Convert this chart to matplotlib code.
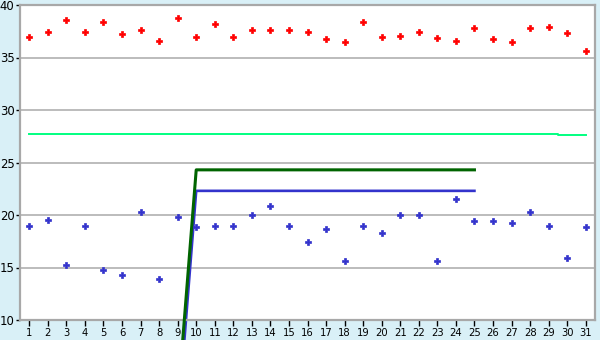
import matplotlib
matplotlib.use("Agg")
import matplotlib.pyplot as plt

days = list(range(1, 32))

red_vals = [37.0, 37.4, 38.6, 37.4, 38.4, 37.2, 37.6, 36.6, 38.8, 37.0,
            38.2, 37.0, 37.6, 37.6, 37.6, 37.4, 36.8, 36.5, 38.4, 37.0,
            37.05, 37.4, 36.9, 36.6, 37.8, 36.8, 36.45, 37.8, 37.95, 37.3,
            35.6]

blue_vals = [19.0, 19.5, 15.2, 19.0, 14.75, 14.25, 20.3, 13.95, 19.8, 18.85,
             19.0, 19.0, 20.0, 20.85, 19.0, 17.4, 18.65, 15.6, 19.0, 18.25,
             20.0, 20.0, 15.6, 21.5, 19.45, 19.45, 19.2, 20.25, 19.0, 15.9,
             18.85]

cyan_vals = [27.7, 27.7, 27.7, 27.7, 27.7, 27.7, 27.7, 27.7, 27.7, 27.7,
             27.7, 27.7, 27.7, 27.7, 27.7, 27.7, 27.7, 27.7, 27.7, 27.7,
             27.7, 27.7, 27.7, 27.7, 27.7, 27.7, 27.7, 27.7, 27.7, 27.6,
             27.6]

trend_x = [9, 10, 25]
green_line = [2.0, 24.3, 24.3]
blue_line = [0.0, 22.3, 22.3]

bg = "#d9f0f7"
fig = plt.figure(figsize=(6, 3.4), dpi=100, facecolor=bg)
ax = fig.add_axes([20 / 600, 1 - 320 / 340, 575 / 600, 315 / 340])
ax.set_facecolor("white")

ax.plot(days, cyan_vals, color="#00ff80", lw=1.4, drawstyle="steps-mid", zorder=2)
ax.plot(trend_x, green_line, color="#006400", lw=2.2, clip_on=False, zorder=3)
ax.plot(trend_x, blue_line, color="#3333cc", lw=1.9, clip_on=False, zorder=2.5)
ax.plot(days, red_vals, ls="none", marker="P", ms=4, color="#ff0000",
        mec="#ff0000", mew=0.5, zorder=4)
ax.plot(days, blue_vals, ls="none", marker="P", ms=4, color="#3333cc",
        mec="#3333cc", mew=0.5, zorder=4)

ax.set_xlim(0.5, 31.5)
ax.set_ylim(10, 40)
ax.set_xticks(days)
ax.set_yticks([10, 15, 20, 25, 30, 35, 40])
ax.yaxis.grid(True, color="#b0b0b0", lw=1.2)
ax.set_axisbelow(True)

for s in ax.spines.values():
    s.set_color("#a8a8a8")
    s.set_linewidth(1.6)

ax.tick_params(axis="x", length=4, width=1, color="black", labelsize=7.2, pad=2)
ax.tick_params(axis="y", length=3, width=1, color="black", labelsize=8.4, pad=1)

fig.savefig("out.png", dpi=100, facecolor=bg)
